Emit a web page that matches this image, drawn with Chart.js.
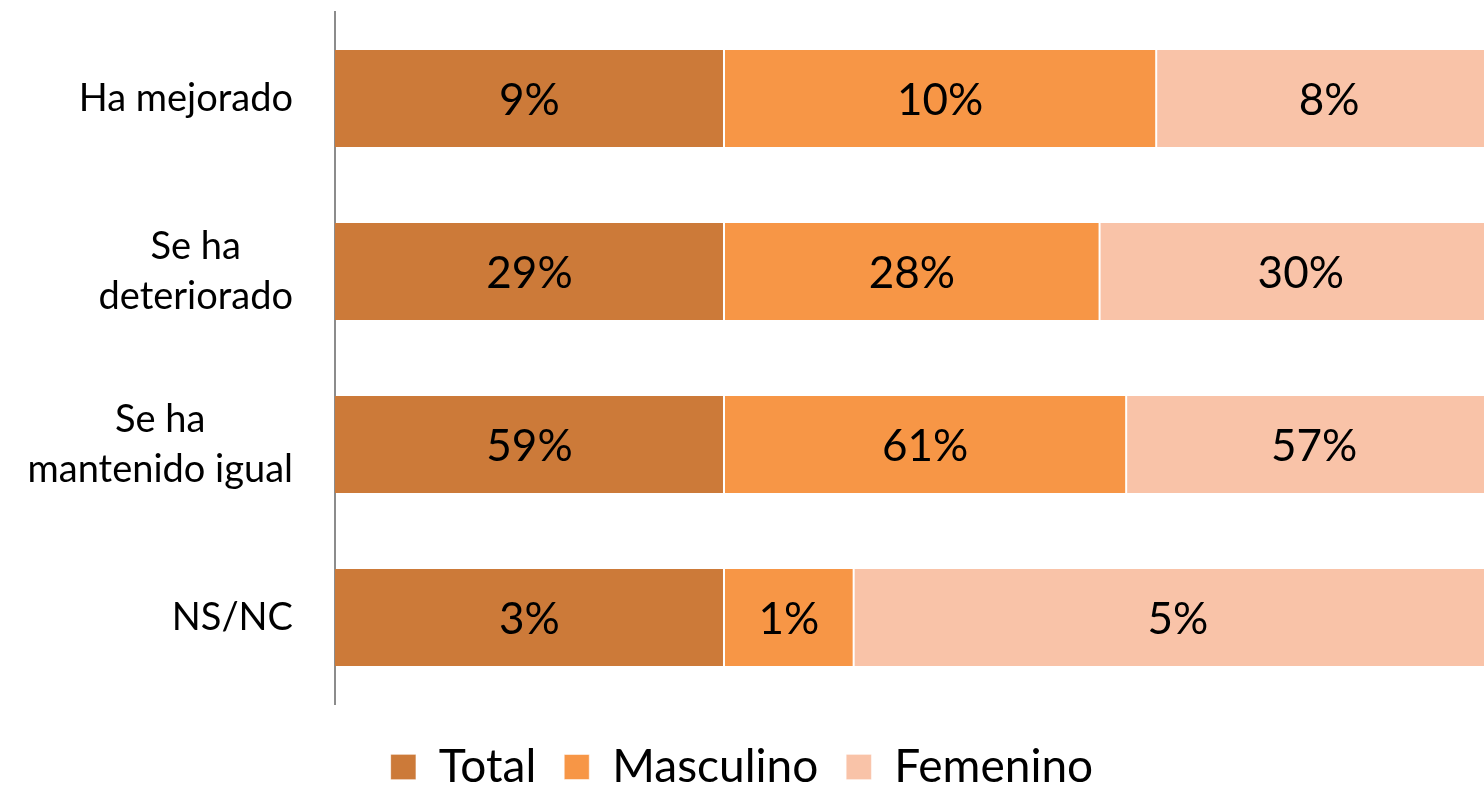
<!DOCTYPE html>
<html>
<head>
<meta charset="utf-8">
<script src="https://cdn.jsdelivr.net/npm/chart.js@4.4.0/dist/chart.umd.min.js"></script>
<style>
  html, body { margin: 0; padding: 0; background: #fff; }
  #wrap { width: 1484px; height: 788px; position: relative; }
</style>
</head>
<body>
<div id="wrap"><canvas id="chart"></canvas></div>
<script>
const categories = ['Ha mejorado', ['Se ha', 'deteriorado'], ['Se ha', 'mantenido igual'], 'NS/NC'];
const total = [9, 29, 59, 3];
const masculino = [10, 28, 61, 1];
const femenino = [8, 30, 57, 5];

// 100% stacked: each row is split by its own sum
const rowSum = total.map((v, i) => v + masculino[i] + femenino[i]);
const share = arr => arr.map((v, i) => v / rowSum[i] * 100);

const FONT = 'Lato, "Open Sans", sans-serif';

// value labels in the middle of each segment
const valueLabels = {
    id: 'valueLabels',
    afterDatasetsDraw(chart) {
        const ctx = chart.ctx;
        ctx.save();
        ctx.font = '44px ' + FONT;
        ctx.fillStyle = '#000';
        ctx.textAlign = 'center';
        ctx.textBaseline = 'middle';
        chart.data.datasets.forEach((ds, di) => {
            chart.getDatasetMeta(di).data.forEach((bar, i) => {
                const p = bar.getCenterPoint();
                ctx.fillText(ds.raw[i] + '%', p.x, p.y + 2);
            });
        });
        ctx.restore();
    }
};

// category labels: block right-aligned, lines centered inside the block
const catLabels = {
    id: 'catLabels',
    afterLayout(chart) {
        // push the legend a little lower, like the original
        chart.legend.top += 12;
        chart.legend.bottom += 12;
    },
    afterDraw(chart) {
        const ctx = chart.ctx;
        const y = chart.scales.y;
        ctx.save();
        ctx.font = '38px ' + FONT;
        ctx.fillStyle = '#000';
        ctx.textAlign = 'center';
        ctx.textBaseline = 'middle';
        const right = chart.chartArea.left - 42;
        const lh = 50;
        categories.forEach((c, i) => {
            const lines = Array.isArray(c) ? c : [c];
            const w = Math.max(...lines.map(l => ctx.measureText(l).width));
            const cy = y.getPixelForValue(i);
            lines.forEach((l, k) => {
                ctx.fillText(l, right - w / 2, cy + (k - (lines.length - 1) / 2) * lh);
            });
        });
        ctx.restore();
    }
};

new Chart(document.getElementById('chart'), {
    type: 'bar',
    data: {
        labels: categories,
        datasets: [
            { label: 'Total', data: share(total), raw: total, backgroundColor: '#CC7A39',
              borderColor: '#fff', borderWidth: { right: 1 }, borderSkipped: false },
            { label: 'Masculino', data: share(masculino), raw: masculino, backgroundColor: '#F79646',
              borderColor: '#fff', borderWidth: { left: 1, right: 1 }, borderSkipped: false },
            { label: 'Femenino', data: share(femenino), raw: femenino, backgroundColor: '#F9C3A8',
              borderColor: '#fff', borderWidth: { left: 1 }, borderSkipped: false }
        ]
    },
    options: {
        indexAxis: 'y',
        responsive: true,
        maintainAspectRatio: false,
        animation: false,
        layout: { padding: { left: 0, top: 12, right: 0, bottom: 0 } },
        categoryPercentage: 0.8,
        barPercentage: 0.7,
        scales: {
            x: { stacked: true, min: 0, max: 98.46, display: false },
            y: {
                stacked: true,
                grid: { display: false },
                border: { display: true, color: '#8c8c8c', width: 2 },
                ticks: { display: false },
                afterFit: s => { s.width = 335; }
            }
        },
        plugins: {
            legend: {
                position: 'bottom',
                labels: {
                    font: { family: FONT, size: 46 },
                    color: '#000',
                    boxWidth: 25,
                    boxHeight: 25,
                    padding: 28
                }
            },
            tooltip: { enabled: false }
        }
    },
    plugins: [valueLabels, catLabels]
});
</script>
</body>
</html>
